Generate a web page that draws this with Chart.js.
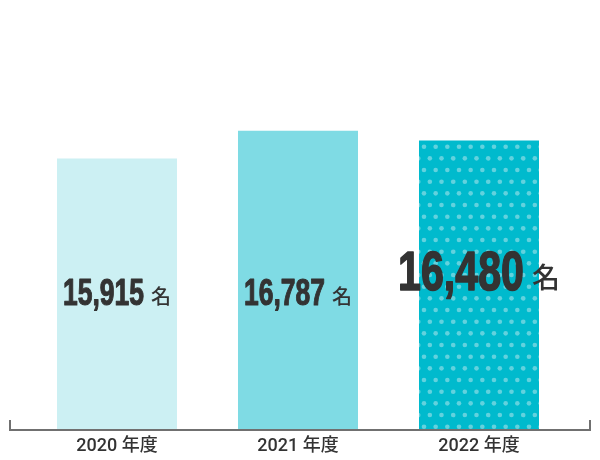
<!DOCTYPE html>
<html lang="ja">
<head>
  <meta charset="UTF-8">
  <title>会員数の推移</title>
  <script src="https://cdn.jsdelivr.net/npm/chart.js"></script>
  <style>
    html, body {
      margin: 0;
      padding: 0;
      background: #fff;
    }
    #wrap {
      width: 600px;
      height: 460px;
    }
  </style>
</head>
<body>
  <div id="wrap"><canvas id="grafica" width="600" height="460"></canvas></div>

  <script>
    const years = ['2020 年度', '2021 年度', '2022 年度'];
    const members = [15915, 16787, 16480];
    const unit = '名';

    // highlighted bar (the latest year) gets the dotted fill and a bigger label
    const highlight = 2;

    function dotPattern() {
      const c = document.createElement('canvas');
      c.width = 35;
      c.height = 70;
      const g = c.getContext('2d');
      g.fillStyle = '#00bacd';
      g.fillRect(0, 0, 35, 70);
      g.fillStyle = '#62d2de';
      const step = 35 / 3;
      for (let j = 0; j < 6; j++) {
        const y = 6.7 + step * j;
        const off = j % 2 ? step / 2 : 0;
        for (let i = -1; i < 4; i++) {
          g.beginPath();
          g.arc(4 + off + step * i, y, 2.3, 0, Math.PI * 2);
          g.fill();
        }
      }
      return document.getElementById('grafica').getContext('2d').createPattern(c, 'repeat');
    }

    const colores = ['#ccf0f3', '#7fdbe4', dotPattern()];

    const numFont = size => 'bold ' + size + 'px "Liberation Sans", Arial, sans-serif';
    const unitFont = size => '500 ' + size + 'px "Noto Sans CJK JP", sans-serif';

    const etiquetas = {
      id: 'etiquetas',
      afterDatasetsDraw(chart) {
        const ctx = chart.ctx;
        const meta = chart.getDatasetMeta(0);
        const bottom = chart.chartArea.bottom;
        meta.data.forEach((bar, i) => {
          const big = i === highlight;
          const num = members[i].toLocaleString('en-US');
          const numSize = big ? 56 : 36;
          const unitSize = big ? 28 : 20;
          const squeeze = 0.735;
          const gap = big ? 8 : 7;
          const baseY = bottom - (big ? 139 : 124);

          ctx.save();
          ctx.textBaseline = 'alphabetic';
          ctx.fillStyle = '#333333';
          ctx.strokeStyle = '#333333';
          ctx.font = numFont(numSize);
          const wNum = ctx.measureText(num).width * squeeze;
          ctx.font = unitFont(unitSize);
          const wUnit = ctx.measureText(unit).width;
          const left = bar.x - (wNum + gap + wUnit) / 2;

          ctx.save();
          ctx.translate(left, baseY);
          ctx.scale(squeeze, 1);
          ctx.font = numFont(numSize);
          ctx.lineWidth = big ? 1.6 : 1.1;
          ctx.lineJoin = 'round';
          ctx.fillText(num, 0, 0);
          ctx.strokeText(num, 0, 0);
          ctx.restore();

          ctx.font = unitFont(unitSize);
          ctx.fillText(unit, left + wNum + gap, baseY - (big ? 2 : 1));
          ctx.restore();
        });
      }
    };

    // bracket-shaped base line under the bars
    const ejeBase = {
      id: 'ejeBase',
      afterDatasetsDraw(chart) {
        const ctx = chart.ctx;
        const y = chart.chartArea.bottom + 0.5;
        const x0 = 10, x1 = chart.width - 10;
        ctx.save();
        ctx.strokeStyle = '#707070';
        ctx.lineWidth = 2;
        ctx.beginPath();
        ctx.moveTo(x0, y - 10);
        ctx.lineTo(x0, y);
        ctx.lineTo(x1, y);
        ctx.lineTo(x1, y - 10);
        ctx.stroke();
        ctx.restore();
      }
    };

    new Chart(document.getElementById('grafica'), {
      type: 'bar',
      data: {
        labels: years,
        datasets: [{
          data: members,
          backgroundColor: colores,
          borderWidth: 0,
          categoryPercentage: 1,
          barPercentage: 0.663
        }]
      },
      options: {
        responsive: false,
        animation: false,
        layout: {
          padding: { top: 10, left: 26.5, right: 30.5, bottom: -3 }
        },
        plugins: {
          legend: { display: false },
          tooltip: { enabled: false }
        },
        scales: {
          y: {
            display: false,
            min: 7400,
            max: 20580
          },
          x: {
            grid: { display: false, drawTicks: false },
            border: { display: false },
            ticks: {
              padding: 6,
              color: '#333333',
              font: { family: '"Roboto", "Noto Sans CJK JP", sans-serif', size: 18, weight: '500' }
            }
          }
        }
      },
      plugins: [etiquetas, ejeBase]
    });
  </script>
</body>
</html>
